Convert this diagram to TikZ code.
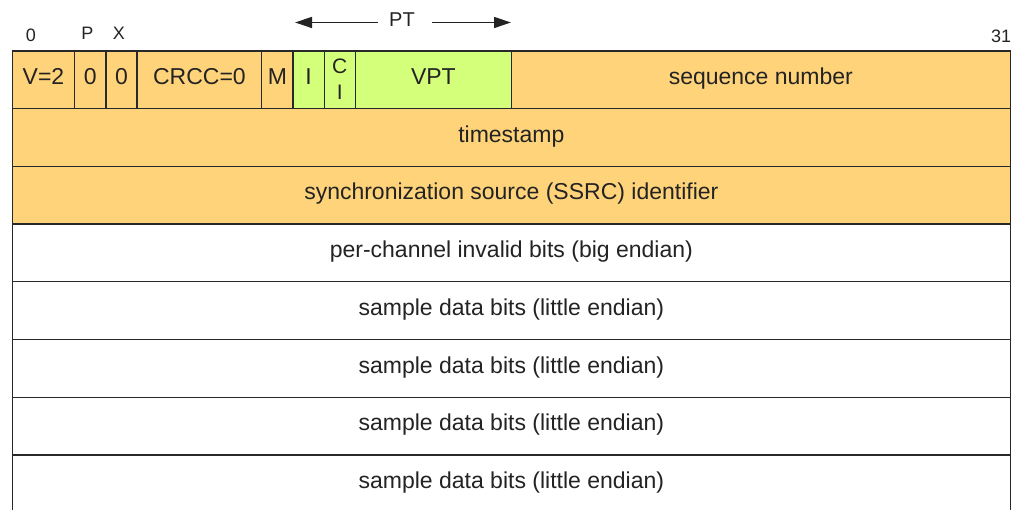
\documentclass[tikz,border=0pt]{standalone}
\usepackage{fontspec}
\setmainfont{Liberation Sans}
\usetikzlibrary{arrows.meta}

\definecolor{hdrorange}{RGB}{255,211,122}
\definecolor{hdrgreen}{RGB}{212,255,122}
\definecolor{rule}{RGB}{40,40,40}
\definecolor{ink}{RGB}{35,35,35}

\tikzset{
  field/.style={draw=rule, line width=1.3pt},
  ftext/.style={font=\fontsize{23}{27}\selectfont, text=ink, inner sep=0pt, anchor=base},
  bitlabel/.style={font=\fontsize{18}{21}\selectfont, text=ink, inner sep=0pt, anchor=base},
  ptarrow/.style={line width=1.3pt, draw=ink, -{Triangle[length=17pt,width=11pt]}},
}

% bit x positions: left edge 12.3, 31.19 per bit; row height 57.7
\newcommand{\bx}[1]{(12.3+(#1)*31.19)}
\newcommand{\ry}[1]{(51+(#1)*57.7)}

\begin{document}
\begin{tikzpicture}[x=1pt, y=-1pt]
\useasboundingbox (0,0) rectangle (1013,510);
\begin{scope}
\clip (0,0) rectangle (1013,510);

% first word: header fields
\path[field, fill=hdrorange] ({\bx{0}},{\ry{0}}) rectangle ({\bx{2}},{\ry{1}});
\path[field, fill=hdrorange] ({\bx{2}},{\ry{0}}) rectangle ({\bx{3}},{\ry{1}});
\path[field, fill=hdrorange] ({\bx{3}},{\ry{0}}) rectangle ({\bx{4}},{\ry{1}});
\path[field, fill=hdrorange] ({\bx{4}},{\ry{0}}) rectangle ({\bx{8}},{\ry{1}});
\path[field, fill=hdrorange] ({\bx{8}},{\ry{0}}) rectangle ({\bx{9}},{\ry{1}});
\path[field, fill=hdrgreen]  ({\bx{9}},{\ry{0}}) rectangle ({\bx{10}},{\ry{1}});
\path[field, fill=hdrgreen]  ({\bx{10}},{\ry{0}}) rectangle ({\bx{11}},{\ry{1}});
\path[field, fill=hdrgreen]  ({\bx{11}},{\ry{0}}) rectangle ({\bx{16}},{\ry{1}});
\path[field, fill=hdrorange] ({\bx{16}},{\ry{0}}) rectangle ({\bx{32}},{\ry{1}});

% full-width words
\path[field, fill=hdrorange] ({\bx{0}},{\ry{1}}) rectangle ({\bx{32}},{\ry{2}});
\path[field, fill=hdrorange] ({\bx{0}},{\ry{2}}) rectangle ({\bx{32}},{\ry{3}});
\foreach \r in {3,...,7}
  \path[field, fill=white] ({\bx{0}},{\ry{\r}}) rectangle ({\bx{32}},{\ry{\r+1}});
\end{scope}

% field labels
\node[ftext] (ver)  at ({\bx{1}},{\ry{0}+34}) {V=2};
\node[ftext] (pad)  at ({\bx{2.5}},{\ry{0}+34}) {0};
\node[ftext] (ext)  at ({\bx{3.5}},{\ry{0}+34}) {0};
\node[ftext] (crcc) at ({\bx{6}},{\ry{0}+34}) {CRCC=0};
\node[ftext] (mark) at ({\bx{8.5}},{\ry{0}+34}) {M};
\node[ftext] (ibit) at ({\bx{9.5}},{\ry{0}+34}) {I};
\node[ftext, font=\fontsize{21}{25}\selectfont] (cbit) at ({\bx{10.5}},{\ry{0}+22.5}) {C};
\node[ftext, font=\fontsize{21}{25}\selectfont] (cibit) at ({\bx{10.5}},{\ry{0}+49}) {I};
\node[ftext] (vpt)  at ({\bx{13.5}},{\ry{0}+34}) {VPT};
\node[ftext] (seq)  at ({\bx{24}},{\ry{0}+34}) {sequence number};

\node[ftext] (ts)   at ({\bx{16}},{\ry{1}+33.6}) {timestamp};
\node[ftext] (ssrc) at ({\bx{16}},{\ry{2}+33.6}) {synchronization source (SSRC) identifier};
\node[ftext] (inv)  at ({\bx{16}},{\ry{3}+33.6}) {per-channel invalid bits (big endian)};
\node[ftext] (sd1)  at ({\bx{16}},{\ry{4}+33.6}) {sample data bits (little endian)};
\node[ftext] (sd2)  at ({\bx{16}},{\ry{5}+33.6}) {sample data bits (little endian)};
\node[ftext] (sd3)  at ({\bx{16}},{\ry{6}+33.6}) {sample data bits (little endian)};
\node[ftext] (sd4)  at ({\bx{16}},{\ry{7}+33.6}) {sample data bits (little endian)};

% bit numbers above the header
\node[bitlabel] (b0)  at (31,42) {0};
\node[bitlabel] (bp)  at (87.5,39.5) {P};
\node[bitlabel] (bx)  at (119,39.5) {X};
\node[bitlabel, anchor=base west] (b31) at (991,43) {31};

% payload type span
\node[bitlabel, font=\fontsize{20}{23}\selectfont] (pt) at (402,26.5) {PT};
\coordinate (ptLstart) at (378,22.5);
\coordinate (ptLend)   at (295,22.5);
\coordinate (ptRstart) at (432,22.5);
\coordinate (ptRend)   at (511,22.5);
\draw[ptarrow] (ptLstart) -- (ptLend);
\draw[ptarrow] (ptRstart) -- (ptRend);
\end{tikzpicture}
\end{document}
